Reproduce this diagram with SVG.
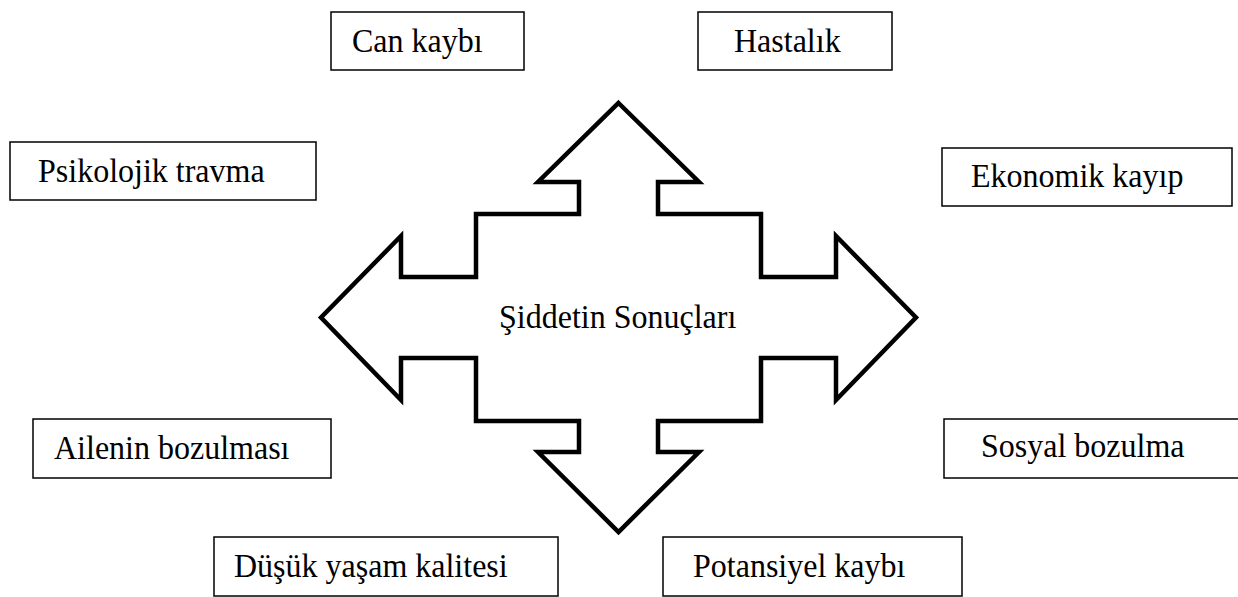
<svg xmlns="http://www.w3.org/2000/svg" width="1238" height="597" viewBox="0 0 1238 597">
<style>
.box{fill:#fff;stroke:#000;stroke-width:1.5}
.lbl{font-family:"Liberation Serif","Times New Roman",serif;font-size:32px;fill:#000}
.arrow{fill:#fff;stroke:#000;stroke-width:4.5;stroke-linejoin:miter}
</style>
<rect width="1238" height="597" fill="#fff"/>
<g id="center">
<path class="arrow" d="M618.5 103 L699 182 L658 182 L658 214 L761 214 L761 277 L836 277 L836 236 L916 317.5 L836 400 L836 358 L761 358 L761 421 L658 421 L658 452 L699 452 L618.5 532 L538 452 L579 452 L579 421 L476 421 L476 358 L401 358 L401 400 L321 317.5 L401 236 L401 277 L476 277 L476 214 L579 214 L579 182 L538 182 Z"/>
<text class="lbl" transform="translate(499 328) scale(1 1.06)">Şiddetin Sonuçları</text>
</g>
<g id="can-kaybi"><rect class="box" x="331" y="12" width="193" height="58"/><text class="lbl" transform="translate(352 52) scale(1 1.06)">Can kaybı</text></g>
<g id="hastalik"><rect class="box" x="698" y="12" width="194" height="58"/><text class="lbl" transform="translate(734 52) scale(1 1.06)">Hastalık</text></g>
<g id="psikolojik-travma"><rect class="box" x="10" y="142" width="306" height="58"/><text class="lbl" transform="translate(38 182) scale(1 1.06)">Psikolojik travma</text></g>
<g id="ekonomik-kayip"><rect class="box" x="942" y="148" width="290" height="58"/><text class="lbl" transform="translate(971 187) scale(1 1.06)">Ekonomik kayıp</text></g>
<g id="ailenin-bozulmasi"><rect class="box" x="33" y="419" width="298" height="59"/><text class="lbl" transform="translate(54 459) scale(1 1.06)">Ailenin bozulması</text></g>
<g id="sosyal-bozulma"><rect class="box" x="944" y="419" width="300" height="59"/><text class="lbl" transform="translate(981 457) scale(1 1.06)">Sosyal bozulma</text></g>
<g id="dusuk-yasam-kalitesi"><rect class="box" x="214" y="537" width="344" height="59"/><text class="lbl" transform="translate(234 577) scale(1 1.06)">Düşük yaşam kalitesi</text></g>
<g id="potansiyel-kaybi"><rect class="box" x="663" y="537" width="299" height="59"/><text class="lbl" transform="translate(693 577) scale(1 1.06)">Potansiyel kaybı</text></g>
<g id="connectors"></g>
</svg>
